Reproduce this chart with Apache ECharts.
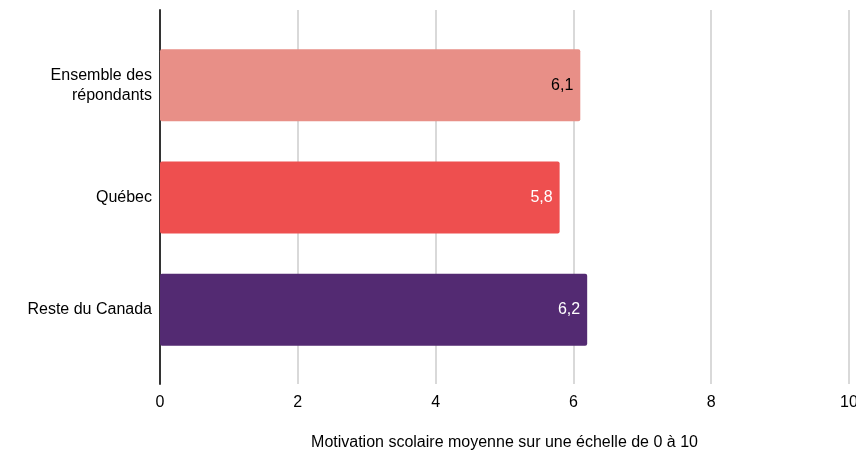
<!DOCTYPE html>
<html><head><meta charset="utf-8">
<script src="https://cdn.jsdelivr.net/npm/echarts@6/dist/echarts.min.js"></script>
<style>html,body{margin:0;padding:0;background:#fff;overflow:hidden}#c{width:856px;height:455px}</style>
</head><body><div id="c"></div>
<script>
const categories = ['Ensemble des\nrépondants', 'Québec', 'Reste du Canada'];
const values = [6.1, 5.8, 6.2];
const barColors = ['#E88F87', '#EE4F4F', '#532A72'];
const labelColors = ['#000000', '#ffffff', '#ffffff'];
const axisName = 'Motivation scolaire moyenne sur une échelle de 0 à 10';

const font = 'Liberation Sans, Arial, Helvetica, sans-serif';
const chart = echarts.init(document.getElementById('c'));
chart.setOption({
  animation: false,
  grid: [
    {left: 160, right: 7, top: 10, bottom: 71, outerBoundsMode: 'none', containLabel: false},
    {left: 160, right: 7, top: 29, bottom: 89, outerBoundsMode: 'none', containLabel: false}
  ],
  xAxis: [
    {gridIndex: 0, type: 'value', min: 0, max: 10, interval: 2,
     axisLine: {show: false}, axisTick: {show: false},
     splitLine: {show: true, lineStyle: {color: '#cccccc', width: 1.5}},
     axisLabel: {color: '#000', fontSize: 16, fontFamily: font, margin: 11},
     name: axisName, nameLocation: 'middle', nameGap: 51,
     nameTextStyle: {color: '#000', fontSize: 16, fontFamily: font}},
    {gridIndex: 1, type: 'value', min: 0, max: 10, interval: 2, show: false}
  ],
  yAxis: [
    {gridIndex: 0, type: 'value', min: 0, max: 1,
     axisLine: {show: true, onZero: false, lineStyle: {color: '#333', width: 2}},
     axisTick: {show: false}, axisLabel: {show: false}, splitLine: {show: false}},
    {gridIndex: 1, type: 'category', inverse: true, data: categories,
     axisLine: {show: false}, axisTick: {show: false}, splitLine: {show: false},
     axisLabel: {color: '#000', fontSize: 16, fontFamily: font, margin: 8, lineHeight: 20, align: 'right'}}
  ],
  series: [{
    type: 'bar', xAxisIndex: 1, yAxisIndex: 1, barWidth: 72,
    data: values.map((v, i) => ({
      value: v,
      itemStyle: {color: barColors[i], borderRadius: 2},
      label: {color: labelColors[i]}
    })),
    label: {show: true, position: 'insideRight', distance: 7, fontSize: 16, fontFamily: font,
      formatter: p => String(p.value).replace('.', ',')}
  }]
});
</script></body></html>
